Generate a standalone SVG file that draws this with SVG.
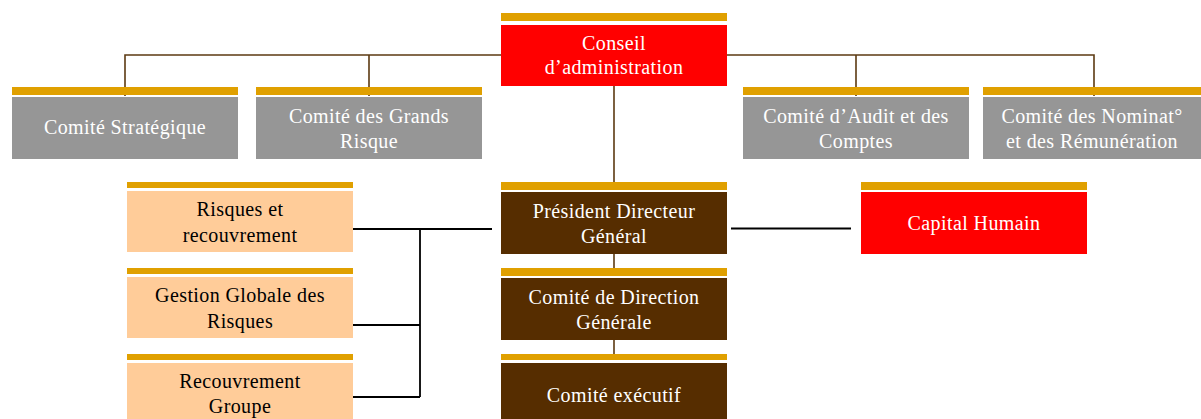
<svg xmlns="http://www.w3.org/2000/svg" width="1201" height="419" viewBox="0 0 1201 419">
<style>
.bar{fill:#E0A000}
.gray{fill:#969696}
.red{fill:#FF0000}
.brown{fill:#562D00}
.peach{fill:#FFCC99}
text{font-family:'Liberation Serif','DejaVu Serif',serif;font-size:20px;text-anchor:middle;letter-spacing:0.4px}
.w{fill:#FFFFFF}
.k{fill:#000000}
.cb{stroke:#5C3A12;stroke-width:1.6;fill:none}
.ck{stroke:#000000;stroke-width:1.8;fill:none}
</style>
<rect width="1201" height="419" fill="#FFFFFF"/>
<g id="connectors">
<path class="cb" d="M125,96 V55 H1094 V96 M369,55 V96 M856,55 V96 M614,86 V182 M614,254 V269 M614,340 V355"/>
<path class="ck" d="M347,229 H492 M420,229 V397 M347,325 H420 M347,397 H420 M731,228.5 H851"/>
</g>
<g id="conseil">
<rect class="bar" x="501" y="13" width="226" height="8"/>
<rect class="red" x="501" y="25" width="226" height="61"/>
<text class="w" x="614" y="49.5">Conseil</text>
<text class="w" x="614" y="74">d’administration</text>
</g>
<g id="strategique">
<rect class="bar" x="12" y="87" width="226" height="8"/>
<rect class="gray" x="12" y="97" width="226" height="62"/>
<text class="w" x="125" y="134">Comité Stratégique</text>
</g>
<g id="grands-risque">
<rect class="bar" x="256" y="87" width="226" height="8"/>
<rect class="gray" x="256" y="97" width="226" height="62"/>
<text class="w" x="369" y="122.5">Comité des Grands</text>
<text class="w" x="369" y="147.5">Risque</text>
</g>
<g id="audit">
<rect class="bar" x="743" y="87" width="226" height="8"/>
<rect class="gray" x="743" y="97" width="226" height="62"/>
<text class="w" x="856" y="122.5">Comité d’Audit et des</text>
<text class="w" x="856" y="147.5">Comptes</text>
</g>
<g id="nominat">
<rect class="bar" x="983" y="87" width="218" height="8"/>
<rect class="gray" x="983" y="97" width="218" height="62"/>
<text class="w" x="1092" y="122.5">Comité des Nominat°</text>
<text class="w" x="1092" y="147.5">et des Rémunération</text>
</g>
<g id="pdg">
<rect class="bar" x="501" y="182" width="226" height="8"/>
<rect class="brown" x="501" y="192" width="226" height="62"/>
<text class="w" x="614" y="217.5">Président Directeur</text>
<text class="w" x="614" y="242.5">Général</text>
</g>
<g id="cdg">
<rect class="bar" x="501" y="268" width="226" height="8"/>
<rect class="brown" x="501" y="278" width="226" height="62"/>
<text class="w" x="614" y="303.5">Comité de Direction</text>
<text class="w" x="614" y="328.5">Générale</text>
</g>
<g id="executif">
<rect class="bar" x="501" y="354" width="226" height="6"/>
<rect class="brown" x="501" y="363" width="226" height="56"/>
<text class="w" x="614" y="401.5">Comité exécutif</text>
</g>
<g id="capital-humain">
<rect class="bar" x="861" y="182" width="226" height="8"/>
<rect class="red" x="861" y="192" width="226" height="62"/>
<text class="w" x="974" y="229.5">Capital Humain</text>
</g>
<g id="risques-recouvrement">
<rect class="bar" x="127" y="182" width="226" height="6"/>
<rect class="peach" x="127" y="191" width="226" height="61"/>
<text class="k" x="240" y="215.5">Risques et</text>
<text class="k" x="240" y="241.5">recouvrement</text>
</g>
<g id="gestion-globale">
<rect class="bar" x="127" y="268" width="226" height="6"/>
<rect class="peach" x="127" y="277" width="226" height="61"/>
<text class="k" x="240" y="301.5">Gestion Globale des</text>
<text class="k" x="240" y="328">Risques</text>
</g>
<g id="recouvrement-groupe">
<rect class="bar" x="127" y="354" width="226" height="6"/>
<rect class="peach" x="127" y="363" width="226" height="56"/>
<text class="k" x="240" y="387.5">Recouvrement</text>
<text class="k" x="240" y="413">Groupe</text>
</g>
</svg>
